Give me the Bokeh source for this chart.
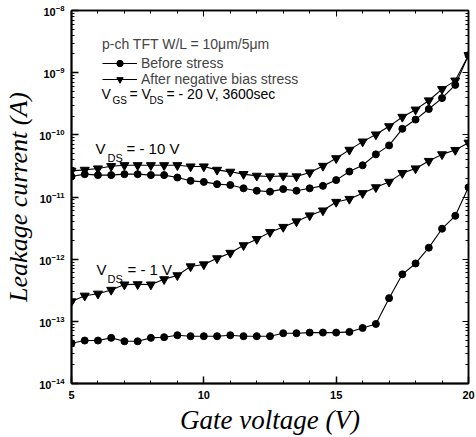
from bokeh.plotting import figure
from bokeh.models import (LogAxis, LinearAxis, FixedTicker, LogTicker, Label, Legend, LegendItem,
                          CustomJSTickFormatter)
from bokeh.embed import file_html
from bokeh.resources import INLINE

# ---------------- data ----------------
gate_voltage = [5.0, 5.5, 6.0, 6.5, 7.0, 7.5, 8.0, 8.5, 9.0, 9.5, 10.0,
                10.5, 11.0, 11.5, 12.0, 12.5, 13.0, 13.5, 14.0, 14.5, 15.0,
                15.5, 16.0, 16.5, 17.0, 17.5, 18.0, 18.5, 19.0, 19.5, 20.0]

before_vds10 = [2.14e-11, 2.33e-11, 2.25e-11, 2.25e-11, 2.33e-11, 2.33e-11, 2.25e-11, 2.25e-11,
                2.06e-11, 1.82e-11, 1.75e-11, 1.61e-11, 1.56e-11, 1.38e-11, 1.26e-11, 1.22e-11,
                1.34e-11, 1.26e-11, 1.38e-11, 1.51e-11, 1.87e-11, 2.57e-11, 3.24e-11, 4.85e-11,
                6.76e-11, 1.25e-10, 1.76e-10, 2.60e-10, 3.90e-10, 6.36e-10, 1.91e-9]

after_vds10 = [2.63e-11, 2.73e-11, 2.87e-11, 3.13e-11, 3.24e-11, 3.24e-11, 3.24e-11, 3.24e-11,
               3.24e-11, 3.09e-11, 3.09e-11, 2.73e-11, 2.54e-11, 2.33e-11, 2.19e-11, 2.14e-11,
               2.19e-11, 2.14e-11, 2.48e-11, 3.16e-11, 4.19e-11, 5.73e-11, 7.78e-11, 1.01e-10,
               1.37e-10, 1.94e-10, 2.54e-10, 3.57e-10, 5.43e-10, 7.45e-10, 1.91e-9]

before_vds1 = [4.44e-14, 4.91e-14, 4.91e-14, 5.42e-14, 4.77e-14, 4.77e-14, 5.42e-14, 5.56e-14,
               5.98e-14, 5.77e-14, 5.77e-14, 5.77e-14, 5.98e-14, 5.77e-14, 5.77e-14, 5.77e-14,
               6.44e-14, 6.44e-14, 6.59e-14, 6.59e-14, 6.59e-14, 6.76e-14, 7.83e-14, 9.08e-14,
               2.36e-13, 5.70e-13, 8.53e-13, 1.53e-12, 3.09e-12, 4.98e-12, 1.43e-11]

after_vds1 = [2.09e-13, 2.58e-13, 2.78e-13, 3.20e-13, 3.90e-13, 3.94e-13, 3.90e-13, 4.74e-13,
              5.49e-13, 7.64e-13, 8.22e-13, 1.03e-12, 1.26e-12, 1.67e-12, 2.10e-12, 2.72e-12,
              3.29e-12, 4.04e-12, 5.04e-12, 6.05e-12, 8.32e-12, 9.29e-12, 1.15e-11, 1.43e-11,
              1.75e-11, 2.42e-11, 2.87e-11, 3.79e-11, 4.85e-11, 5.69e-11, 7.46e-11]

x_ticks = [5, 10, 15, 20]
x_minor_ticks = [5, 6, 7, 8, 9, 10, 11, 12, 13, 14, 15, 16, 17, 18, 19, 20]
x_range = (5, 20)
y_range = (1e-14, 1e-8)

legend_title = "p-ch TFT W/L = 10\u03bcm/5\u03bcm"
label_before = "Before stress"
label_after = "After negative bias stress"

# ---------------- layout helpers (page pixel -> data coords) ----------------
FL, FR, FT, FB = 71.0, 468.0, 10.0, 386.0


def px_x(px):
    return x_range[0] + (px - FL) * (x_range[1] - x_range[0]) / (FR - FL)


def px_y(py):
    return 10 ** (-8 - (py - FT) * 6.0 / (FB - FT))


SANS = "Liberation Sans"
SERIF = "Liberation Serif"

p = figure(width=476, height=437, x_range=x_range, y_range=y_range,
           y_axis_type="log", output_backend="svg", toolbar_location=None,
           min_border_left=71, min_border_top=10, min_border_right=8, min_border_bottom=51)
p.grid.visible = False
p.outline_line_color = "black"
p.outline_line_width = 1.5
p.background_fill_color = "white"
p.border_fill_color = "white"

# ---------------- series ----------------
l_b10 = p.line(gate_voltage, before_vds10, line_color="black", line_width=1.1)
s_b10 = p.scatter(gate_voltage, before_vds10, marker="circle", size=7, color="black")
l_a10 = p.line(gate_voltage, after_vds10, line_color="black", line_width=1.1)
s_a10 = p.scatter(gate_voltage, after_vds10, marker="inverted_triangle", size=9, color="black")
l_b1 = p.line(gate_voltage, before_vds1, line_color="black", line_width=1.1)
s_b1 = p.scatter(gate_voltage, before_vds1, marker="circle", size=7, color="black")
l_a1 = p.line(gate_voltage, after_vds1, line_color="black", line_width=1.1)
s_a1 = p.scatter(gate_voltage, after_vds1, marker="inverted_triangle", size=9, color="black")

# ---------------- axes ----------------
xa = p.xaxis[0]
xa.ticker = FixedTicker(ticks=x_ticks, minor_ticks=x_minor_ticks)
xa.axis_label = "Gate voltage (V)"
ya = p.yaxis[0]
ya.ticker = LogTicker(num_minor_ticks=10)
ya.axis_label = "Leakage current (A)"

for ax in (xa, ya):
    ax.axis_line_color = "black"
    ax.axis_line_width = 2
    ax.major_tick_line_color = "black"
    ax.minor_tick_line_color = "black"
    ax.major_tick_line_width = 1.5
    ax.major_tick_in = 7
    ax.major_tick_out = 0
    ax.minor_tick_in = 3
    ax.minor_tick_out = 0
    ax.major_label_text_font = SANS
    ax.major_label_text_font_style = "bold"
    ax.major_label_text_font_size = "11px"
    ax.major_label_text_color = "black"
    ax.axis_label_text_font = SERIF
    ax.axis_label_text_font_style = "italic"
    ax.axis_label_text_color = "black"

xa.axis_label_text_font_size = "27px"
xa.major_label_standoff = 7
xa.axis_label_standoff = 3
ya.axis_label_text_font_size = "26px"
ya.major_label_standoff = 7
ya.axis_label_standoff = 3

top_ax = LinearAxis(ticker=FixedTicker(ticks=x_ticks, minor_ticks=x_minor_ticks),
                    formatter=CustomJSTickFormatter(code="return '';"))
right_ax = LogAxis(ticker=LogTicker(num_minor_ticks=10),
                   formatter=CustomJSTickFormatter(code="return '';"))
for ax in (top_ax, right_ax):
    ax.axis_line_color = "black"
    ax.axis_line_width = 1.5
    ax.major_tick_in = 6
    ax.major_tick_out = 0
    ax.minor_tick_in = 3
    ax.minor_tick_out = 0
    ax.major_tick_line_color = "black"
    ax.minor_tick_line_color = "black"
    ax.major_label_standoff = 0
p.add_layout(top_ax, "above")
p.add_layout(right_ax, "right")

# ---------------- legend ----------------
legend = Legend(items=[LegendItem(label=label_before, renderers=[l_b10, s_b10]),
                       LegendItem(label=label_after, renderers=[l_a10, s_a10])],
                location=(31, 296), title=legend_title,
                title_text_font=SANS, title_text_font_size="14px", title_text_font_style="normal",
                title_standoff=3,
                label_text_font=SANS, label_text_font_size="14px",
                label_height=16, glyph_height=16, glyph_width=35, label_standoff=4,
                spacing=0, padding=0, margin=0,
                border_line_alpha=0, background_fill_alpha=0)
p.add_layout(legend)


# ---------------- text annotations with subscripts ----------------
def add_text(px, py, txt, size="14px"):
    p.add_layout(Label(x=px_x(px), y=px_y(py), text=txt, text_font=SANS,
                       text_font_size=size, text_baseline="middle", text_align="left",
                       text_color="black"))


# V_GS = V_DS = - 20 V, 3600sec
add_text(101, 94, "V")
add_text(112, 101, "GS", "10px")
add_text(129, 94, "= V")
add_text(149, 101, "DS", "10px")
add_text(166, 94, "= - 20 V, 3600sec")

# V_DS = - 10 V
add_text(95, 149, "V", "15px")
add_text(107, 159, "DS", "11px")
add_text(126, 149, "= - 10 V", "15px")

# V_DS = - 1 V
add_text(96, 271, "V", "15px")
add_text(107, 281, "DS", "11px")
add_text(127, 271, "= - 1 V", "15px")

open("out.html", "w").write(file_html(p, INLINE))
